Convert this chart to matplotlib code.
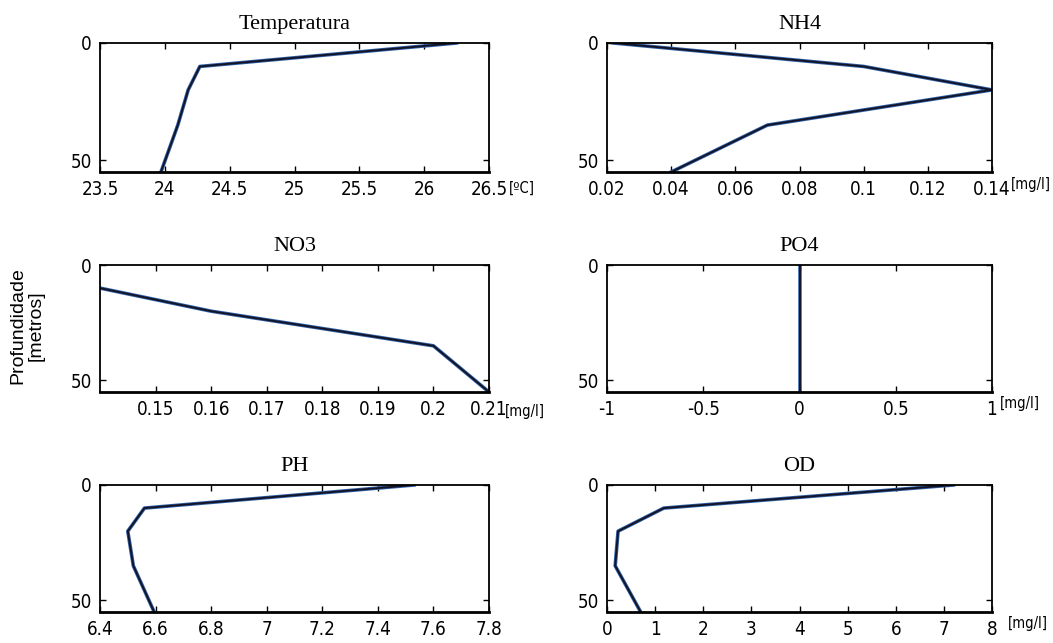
import matplotlib
matplotlib.use("Agg")
import matplotlib.pyplot as plt
from matplotlib import font_manager

# Depth profiles (metres) for each water-quality parameter
depth = [0, 10, 20, 35, 55]

temperatura = [26.25, 24.27, 24.18, 24.10, 23.97]
nh4 = [0.022, 0.10, 0.14, 0.07, 0.04]
no3_depth = [10, 20, 35, 55]
no3 = [0.14, 0.16, 0.20, 0.21]
po4 = [0, 0, 0, 0, 0]
ph = [7.53, 6.56, 6.50, 6.52, 6.595]
od = [7.2, 1.18, 0.23, 0.17, 0.70]

titles = ["Temperatura", "NH4", "NO3", "PO4", "PH", "OD"]
units = ["[\u00baC]", "[mg/l]", "[mg/l]", "[mg/l]", "", "[mg/l]"]

xlims = [(23.5, 26.5), (0.02, 0.14), (0.14, 0.21), (-1, 1), (6.4, 7.8), (0, 8)]
xticks = [
    [23.5, 24, 24.5, 25, 25.5, 26, 26.5],
    [0.02, 0.04, 0.06, 0.08, 0.1, 0.12, 0.14],
    [0.15, 0.16, 0.17, 0.18, 0.19, 0.2, 0.21],
    [-1, -0.5, 0, 0.5, 1],
    [6.4, 6.6, 6.8, 7, 7.2, 7.4, 7.6, 7.8],
    [0, 1, 2, 3, 4, 5, 6, 7, 8],
]
xticklabels = [
    ["23.5", "24", "24.5", "25", "25.5", "26", "26.5"],
    ["0.02", "0.04", "0.06", "0.08", "0.1", "0.12", "0.14"],
    ["0.15", "0.16", "0.17", "0.18", "0.19", "0.2", "0.21"],
    ["-1", "-0.5", "0", "0.5", "1"],
    ["6.4", "6.6", "6.8", "7", "7.2", "7.4", "7.6", "7.8"],
    ["0", "1", "2", "3", "4", "5", "6", "7", "8"],
]
series = [
    (temperatura, depth),
    (nh4, depth),
    (no3, no3_depth),
    (po4, depth),
    (ph, depth),
    (od, depth),
]

# narrow sans for the numeric labels, if a condensed face is available
names = {f.name for f in font_manager.fontManager.ttflist}
condensed = [f for f in font_manager.fontManager.ttflist
             if f.name == "DejaVu Sans" and f.stretch in ("condensed", "semi-condensed")]
if "Liberation Sans Narrow" in names:
    tick_props = dict(family=["Liberation Sans Narrow", "DejaVu Sans"], fontsize=14.5)
elif condensed:
    tick_props = dict(family=["DejaVu Sans"], fontstretch="condensed", fontsize=13.5)
else:
    tick_props = dict(family=["Liberation Sans", "DejaVu Sans"], fontsize=13)

W, H = 1053, 643
fig = plt.figure(figsize=(W / 100, H / 100), dpi=100)
fig.patch.set_facecolor("white")

# panel boxes in pixels: (left, top, right, bottom)
cols = [(100, 489), (607, 992)]
rows = [(43, 172), (265, 392), (485, 612)]

title_font = ["Liberation Serif", "DejaVu Serif"]
unit_offsets = [(-0.13, 1.05), (-0.10, 1.05), (-0.15, 1.04), (-0.09, 1.02), (0, 0), (-0.09, 1.04)]

for i in range(6):
    r, c = divmod(i, 2)
    x0, x1 = cols[c]
    y0, y1 = rows[r]
    ax = fig.add_axes([x0 / W, 1 - y1 / H, (x1 - x0) / W, (y1 - y0) / H])
    xv, dv = series[i]
    ax.plot(xv, dv, color="#2f62a8", lw=2.6, solid_joinstyle="round")
    ax.plot(xv, dv, color="#141428", lw=1.4, solid_joinstyle="round")
    ax.set_xlim(*xlims[i])
    ax.set_ylim(55, 0)
    ax.set_yticks([0, 50])
    ax.set_yticklabels(["0", "50"], **tick_props)
    ax.set_xticks(xticks[i])
    ax.set_xticklabels(xticklabels[i], **tick_props)
    ax.tick_params(direction="in", length=4, width=1, top=True, right=True,
                   pad=6, colors="black")
    for s in ax.spines.values():
        s.set_linewidth(1.3)
        s.set_color("black")
    ax.spines["bottom"].set_linewidth(2.0)
    ax.set_title(titles[i], family=title_font, fontsize=16, pad=10)
    if units[i]:
        yoff, xoff = unit_offsets[i]
        props = dict(tick_props)
        props["fontsize"] = tick_props["fontsize"] - 3
        ax.text(xoff, yoff, units[i], transform=ax.transAxes,
                ha="left", va="center", **props)

fig.text(18 / W, 1 - 326 / H, "Profundidade", rotation=90, ha="center", va="center",
         family=["Liberation Sans", "DejaVu Sans"], fontsize=14)
fig.text(36 / W, 1 - 326 / H, "[metros]", rotation=90, ha="center", va="center",
         family=["Liberation Sans", "DejaVu Sans"], fontsize=14)

fig.savefig("out.png", dpi=100, facecolor="white")
